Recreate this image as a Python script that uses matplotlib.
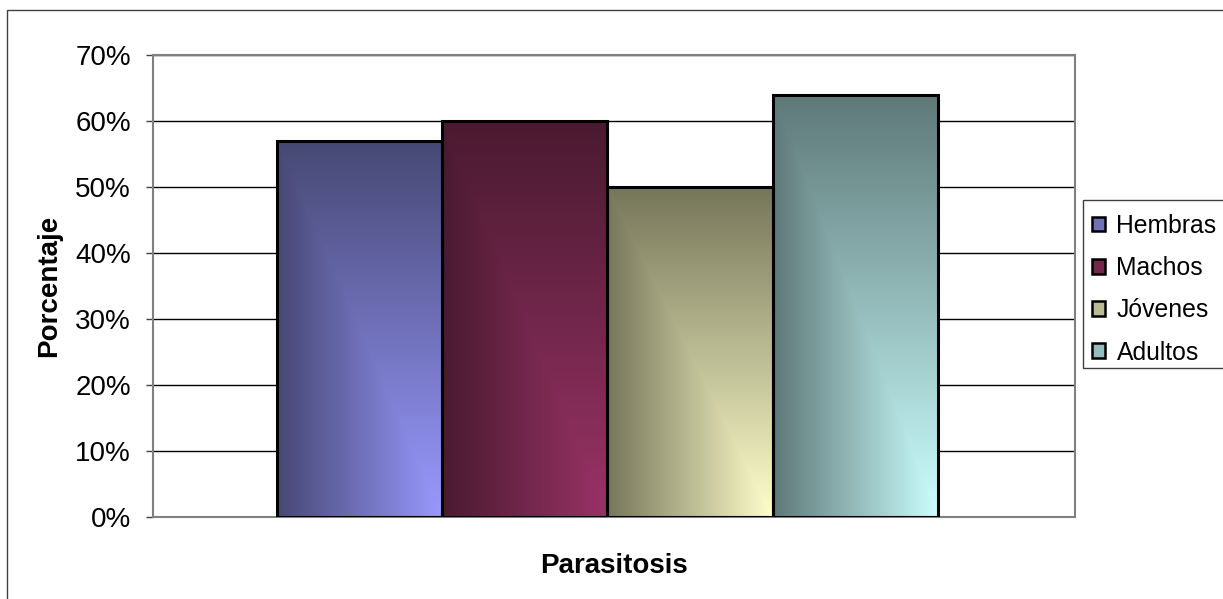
import numpy as np
import matplotlib.pyplot as plt
from matplotlib.patches import Patch, Rectangle
from matplotlib.colors import to_rgb
from matplotlib.ticker import PercentFormatter

plt.rcParams['font.family'] = ['Liberation Sans', 'DejaVu Sans']

# data
series = ['Hembras', 'Machos', 'Jóvenes', 'Adultos']
values = [57, 60, 50, 64]
dark_colors = ['#464873', '#4a1a30', '#76765a', '#5e7878']
light_colors = ['#9999ff', '#993366', '#ffffcc', '#ccffff']
y_ticks = [0, 10, 20, 30, 40, 50, 60, 70]


def gradient_img(dark, light, n=200):
    """corner gradient: dark on top/left, light at bottom-right"""
    u = np.linspace(0, 1, n)[None, :]
    v = np.linspace(0, 1, n)[:, None]
    t = np.minimum(u, v)[..., None]
    d = np.array(to_rgb(dark))
    l = np.array(to_rgb(light))
    return d + (l - d) * t


fig = plt.figure(figsize=(12.23, 5.99), dpi=100)
ax = fig.add_axes([153 / 1223, 1 - 517 / 599, (1075 - 153) / 1223, (517 - 55) / 599])

x = np.arange(len(series))
bars = ax.bar(x, values, width=1.0, facecolor='none', edgecolor='black', linewidth=2.2, zorder=3)
for b, dk, lt in zip(bars, dark_colors, light_colors):
    x0, y0 = b.get_x(), b.get_y()
    w, h = b.get_width(), b.get_height()
    im = ax.imshow(gradient_img(dk, lt), extent=[x0, x0 + w, y0, y0 + h],
                   origin='upper', aspect='auto', zorder=2, interpolation='bilinear')
    im.set_clip_path(b)

ax.set_xlim(-1.25, 4.33)
ax.set_ylim(0, 70)
ax.set_yticks(y_ticks)
ax.yaxis.set_major_formatter(PercentFormatter(decimals=0))
ax.set_xticks([])
ax.grid(axis='y', color='black', linewidth=1.0, zorder=1)
ax.set_axisbelow(True)
for s in ax.spines.values():
    s.set_color('#808080')
    s.set_linewidth(1.5)
ax.tick_params(axis='y', direction='out', length=5, width=1, color='#404040',
               labelsize=20, pad=11)

ax.set_xlabel('Parasitosis', fontsize=20, fontweight='bold', labelpad=26)
ax.set_ylabel('Porcentaje', fontsize=20, fontweight='bold', labelpad=9)

# legend
handles = [Patch(facecolor=(np.array(to_rgb(d)) + np.array(to_rgb(l))) / 2,
                 edgecolor='black', linewidth=1.8) for d, l in zip(dark_colors, light_colors)]
leg = fig.legend(handles, series, loc='upper left', bbox_to_anchor=(1072 / 1223, 1 - 194 / 599),
                 frameon=False, fontsize=17.8, handlelength=0.55, handleheight=0.55,
                 handletextpad=0.45, labelspacing=0.74, borderpad=0.3)

# legend box and outer frame, running off the right/bottom edges
fig.patches.append(Rectangle((1083 / 1223, 1 - 368 / 599), 0.2, (368 - 200) / 599,
                             transform=fig.transFigure, fill=False, edgecolor='#404040',
                             linewidth=1.0))
fig.patches.append(Rectangle((7 / 1223, -0.1), 1.1, 1.1 - 10 / 599,
                             transform=fig.transFigure, fill=False, edgecolor='#404040',
                             linewidth=1.0))

fig.savefig('out.png', dpi=100)
